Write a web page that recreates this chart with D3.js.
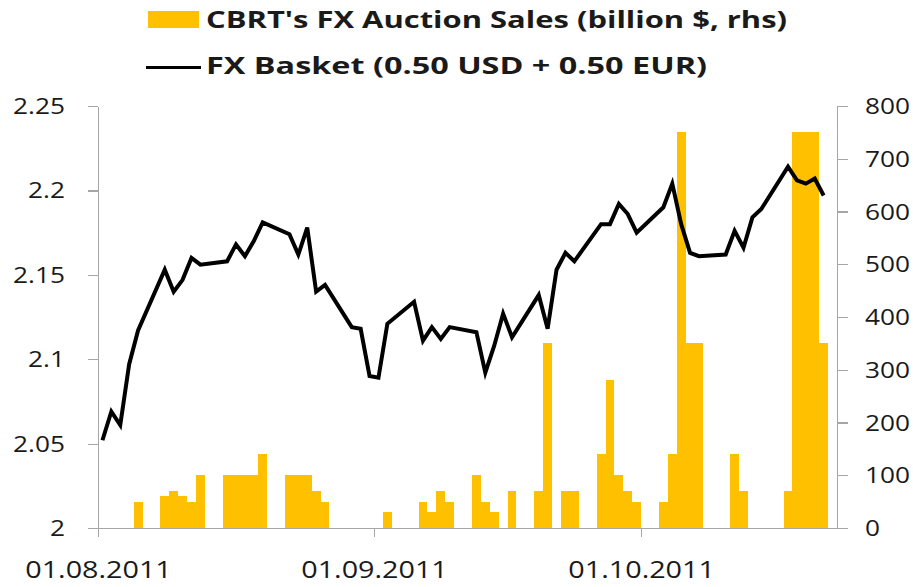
<!DOCTYPE html>
<html>
<head>
<meta charset="utf-8">
<script src="https://cdn.jsdelivr.net/npm/d3@7"></script>
<style>
  html, body { margin: 0; padding: 0; background: #fff; }
  #chart text { font-family: "Open Sans", "Liberation Sans", sans-serif; fill: #1a1a1a; }
  .axis path, .axis line { stroke: #a6a6a6; stroke-width: 1.2; shape-rendering: crispEdges; }
  .legend text { font-weight: bold; fill: #000; }
</style>
</head>
<body>
<div id="chart"></div>
<script>
// FX basket (0.50 USD + 0.50 EUR), business days
const basketDates = [
  "2011-08-01","2011-08-02","2011-08-03","2011-08-04","2011-08-05",
  "2011-08-08","2011-08-09","2011-08-10","2011-08-11","2011-08-12",
  "2011-08-15","2011-08-16","2011-08-17","2011-08-18","2011-08-19",
  "2011-08-22","2011-08-23","2011-08-24","2011-08-25","2011-08-26",
  "2011-08-29","2011-08-30","2011-08-31","2011-09-01","2011-09-02",
  "2011-09-05","2011-09-06","2011-09-07","2011-09-08","2011-09-09",
  "2011-09-12","2011-09-13","2011-09-14","2011-09-15","2011-09-16",
  "2011-09-19","2011-09-20","2011-09-21","2011-09-22","2011-09-23",
  "2011-09-26","2011-09-27","2011-09-28","2011-09-29","2011-09-30",
  "2011-10-03","2011-10-04","2011-10-05","2011-10-06","2011-10-07",
  "2011-10-10","2011-10-11","2011-10-12","2011-10-13","2011-10-14",
  "2011-10-17","2011-10-18","2011-10-19","2011-10-20","2011-10-21"
];
const basketValues = [
  2.052, 2.069, 2.061, 2.097, 2.117,
  2.153, 2.140, 2.147, 2.160, 2.156,
  2.158, 2.168, 2.161, 2.170, 2.181,
  2.174, 2.162, 2.178, 2.140, 2.144,
  2.119, 2.118, 2.090, 2.089, 2.121,
  2.134, 2.111, 2.119, 2.112, 2.119,
  2.116, 2.092, 2.108, 2.127, 2.113,
  2.138, 2.118, 2.153, 2.163, 2.158,
  2.180, 2.180, 2.192, 2.186, 2.175,
  2.190, 2.204, 2.180, 2.163, 2.161,
  2.162, 2.176, 2.166, 2.184, 2.189,
  2.214, 2.206, 2.204, 2.207, 2.197
];

// CBRT FX auction sales (rhs)
const salesDates = [
  "2011-08-05","2011-08-08","2011-08-09","2011-08-10","2011-08-11","2011-08-12",
  "2011-08-15","2011-08-16","2011-08-17","2011-08-18","2011-08-19",
  "2011-08-22","2011-08-23","2011-08-24","2011-08-25","2011-08-26",
  "2011-09-02","2011-09-06","2011-09-07","2011-09-08","2011-09-09",
  "2011-09-12","2011-09-13","2011-09-14","2011-09-16",
  "2011-09-19","2011-09-20","2011-09-22","2011-09-23",
  "2011-09-26","2011-09-27","2011-09-28","2011-09-29","2011-09-30",
  "2011-10-03","2011-10-04","2011-10-05","2011-10-06","2011-10-07",
  "2011-10-11","2011-10-12",
  "2011-10-17","2011-10-18","2011-10-19","2011-10-20","2011-10-21"
];
const salesValues = [
  50, 60, 70, 60, 50, 100,
  100, 100, 100, 100, 140,
  100, 100, 100, 70, 50,
  30, 50, 30, 70, 50,
  100, 50, 30, 70,
  70, 350, 70, 70,
  140, 280, 100, 70, 50,
  50, 140, 750, 350, 350,
  140, 70,
  70, 750, 750, 750, 350
];

const leftTicks = [2, 2.05, 2.1, 2.15, 2.2, 2.25];
const rightTicks = [0, 100, 200, 300, 400, 500, 600, 700, 800];
const dateTicks = ["2011-08-01", "2011-09-01", "2011-10-01"];
const legendLabels = ["CBRT's FX Auction Sales (billion $, rhs)", "FX Basket (0.50 USD + 0.50 EUR)"];

const width = 913, height = 587;
const plotLeft = 98, plotRight = 837, plotTop = 106, plotBottom = 528;
const SX = 1.25; // text in the source is stretched horizontally

const parse = d3.utcParse("%Y-%m-%d");
const day = 24 * 3600 * 1000;

const svg = d3.select("#chart").append("svg")
  .attr("width", width).attr("height", height);

const x = d3.scaleUtc()
  .domain([parse("2011-08-01"), parse("2011-10-23")])
  .range([plotLeft, plotRight]);
const yL = d3.scaleLinear().domain([2, 2.25]).range([plotBottom, plotTop]);
const yR = d3.scaleLinear().domain([0, 800]).range([plotBottom, plotTop]);

// bars: each one fills its calendar day, snapped to pixels so neighbours join
const sales = salesDates.map((d, i) => ({ date: parse(d), value: salesValues[i] }));
svg.append("g").selectAll("rect")
  .data(sales)
  .join("rect")
  .attr("x", d => Math.round(x(d.date)))
  .attr("width", d => Math.round(x(new Date(+d.date + day))) - Math.round(x(d.date)))
  .attr("y", d => yR(d.value))
  .attr("height", d => yR(0) - yR(d.value))
  .attr("fill", "#FFC000")
  .attr("shape-rendering", "crispEdges");

// axes
const gL = svg.append("g").attr("class", "axis").attr("transform", `translate(${plotLeft},0)`)
  .call(d3.axisLeft(yL).tickValues(leftTicks).tickSize(10).tickSizeOuter(0).tickFormat(d3.format("")));
gL.selectAll("text")
  .attr("x", -33 / SX).attr("dy", "0.36em")
  .attr("transform", `scale(${SX},1)`)
  .style("font-size", "21px");

const gR = svg.append("g").attr("class", "axis").attr("transform", `translate(${plotRight},0)`)
  .call(d3.axisRight(yR).tickValues(rightTicks).tickSize(11).tickSizeOuter(0));
gR.selectAll("text")
  .attr("x", 28 / SX).attr("dy", "0.36em")
  .attr("transform", `scale(${SX},1)`)
  .style("font-size", "21px");

const gB = svg.append("g").attr("class", "axis").attr("transform", `translate(0,${plotBottom})`)
  .call(d3.axisBottom(x).tickValues(dateTicks.map(parse)).tickSize(9).tickSizeOuter(0)
    .tickFormat(d3.utcFormat("%d.%m.%Y")));
gB.selectAll("text")
  .attr("y", 50).attr("dy", 0)
  .attr("transform", `scale(${SX},1)`)
  .style("font-size", "23px");

// basket line, points at the middle of each day
const basket = basketDates.map((d, i) => ({ date: parse(d), value: basketValues[i] }));
const line = d3.line()
  .x(d => x(new Date(+d.date + day / 2)))
  .y(d => yL(d.value));
svg.append("path")
  .datum(basket)
  .attr("d", line)
  .attr("fill", "none")
  .attr("stroke", "#000")
  .attr("stroke-width", 4)
  .attr("stroke-linejoin", "miter");

// legend
const legend = svg.append("g").attr("class", "legend");
legend.append("rect").attr("x", 148).attr("y", 11).attr("width", 51).attr("height", 17).attr("fill", "#FFC000");
legend.append("line").attr("x1", 146).attr("x2", 201).attr("y1", 67.5).attr("y2", 67.5)
  .attr("stroke", "#000").attr("stroke-width", 3);
const legendWidths = [581, 501];
legend.selectAll("text")
  .data(legendLabels)
  .join("text")
  .attr("x", 206)
  .attr("y", (d, i) => i === 0 ? 27.5 : 74)
  .attr("textLength", (d, i) => legendWidths[i])
  .attr("lengthAdjust", "spacingAndGlyphs")
  .style("font-size", "24px")
  .text(d => d);
</script>
</body>
</html>
